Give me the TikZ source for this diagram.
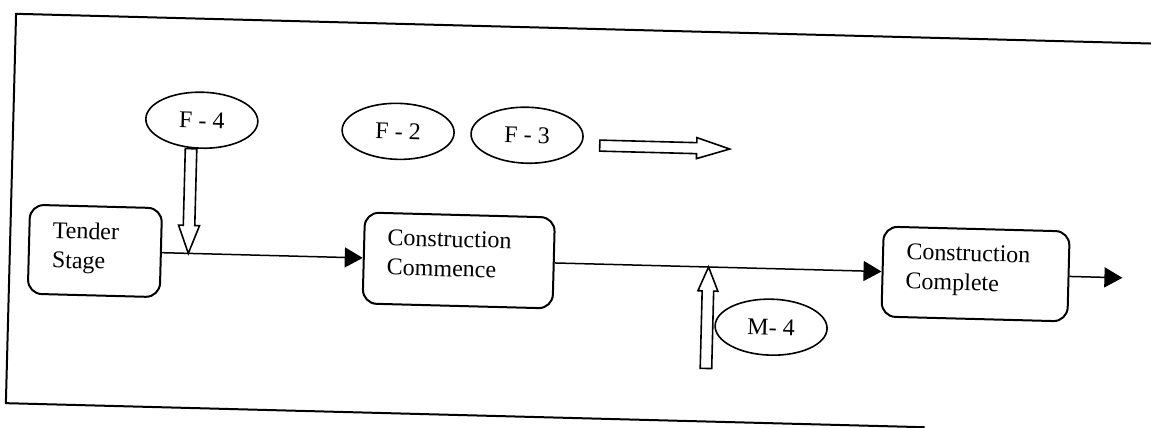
\documentclass[tikz,border=0pt]{standalone}
\usepackage{fontspec}
\setmainfont{Liberation Serif}
\usetikzlibrary{shapes.geometric,arrows.meta,calc}
\tikzset{
  stagebox/.style={draw, line width=1pt, rounded corners=7pt, inner sep=0pt},
  stagetext/.style={anchor=north west, align=left, inner sep=0pt,
    font=\fontsize{12pt}{14.75pt}\selectfont, xshift=12pt, yshift=-8.5pt},
  factor/.style={draw, ellipse, line width=0.8pt, minimum width=56pt,
    minimum height=28pt, inner sep=0pt, font=\fontsize{12pt}{14pt}\selectfont},
  flow/.style={line width=0.75pt, -{Triangle[length=9pt,width=10pt]}},
  hollow/.style={draw, line width=0.8pt, line join=miter, fill=white},
  frameline/.style={line width=1pt},
}
\begin{document}
\begin{tikzpicture}[x=0.5pt,y=-0.5pt]
\useasboundingbox (0,0) rectangle (1151,428);
\fill[white] (0,0) rectangle (1151,428);
\clip (0,0) rectangle (1151,428);
\begin{scope}[rotate around={-1.5:(575,214)}, transform shape]
  % outer frame (open to the right)
  \draw[frameline] (1300,28.5) -- (11,28.5) -- (11,418) -- (930,418);

  % project stages
  \node[stagebox, minimum width=66pt, minimum height=44.5pt] (tender) at (96,263.5) {};
  \node[stagetext] (tendertxt) at (tender.north west) {Tender\\Stage};
  \node[stagebox, minimum width=95pt, minimum height=45.5pt] (commence) at (460,263.5) {};
  \node[stagetext] (commencetxt) at (commence.north west) {Construction\\Commence};
  \node[stagebox, minimum width=93pt, minimum height=45pt] (complete) at (977,263.5) {};
  \node[stagetext] (completetxt) at (complete.north west) {Construction\\Complete};
  \coordinate (out) at (1124,263.5);

  \draw[flow] (tender.east) -- (commence.west);
  \draw[flow] (commence.east) -- (complete.west);
  \draw[flow] (complete.east) -- (out);

  % factors
  \node[factor] (f4) at (199.5,130) {F - 4};
  \node[factor] (f2) at (396,136) {F - 2};
  \node[factor] (f3) at (525,136.5) {F - 3};
  \node[factor] (m4) at (774,322) {M- 4};

  % F-4 acting on the tender stage
  \coordinate (f4tail) at ($(f4.south)+(-10,0)$);
  \coordinate (f4tip) at (f4tail |- tender.east);
  \draw[hollow] ($(f4tail)+(-5.75,0)$) -- ($(f4tip)+(-5.75,-28)$)
    -- ($(f4tip)+(-10.5,-28)$) -- (f4tip) -- ($(f4tip)+(10.5,-28)$)
    -- ($(f4tip)+(5.75,-28)$) -- ($(f4tail)+(5.75,0)$) -- cycle;

  % F-2 / F-3 carried forward
  \coordinate (flowtail) at (598,145);
  \coordinate (flowtip) at (728,145);
  \draw[hollow] ($(flowtail)+(0,-5.5)$) -- ($(flowtip)+(-33,-5.5)$)
    -- ($(flowtip)+(-33,-10.5)$) -- (flowtip) -- ($(flowtip)+(-33,10.5)$)
    -- ($(flowtip)+(-33,5.5)$) -- ($(flowtail)+(0,5.5)$) -- cycle;

  % M-4 acting during construction
  \coordinate (m4tail) at (710,365);
  \coordinate (m4tip) at (m4tail |- commence.east);
  \draw[hollow] ($(m4tail)+(-5.75,0)$) -- ($(m4tip)+(-5.75,24)$)
    -- ($(m4tip)+(-10,24)$) -- (m4tip) -- ($(m4tip)+(10,24)$)
    -- ($(m4tip)+(5.75,24)$) -- ($(m4tail)+(5.75,0)$) -- cycle;
\end{scope}
\end{tikzpicture}
\end{document}
